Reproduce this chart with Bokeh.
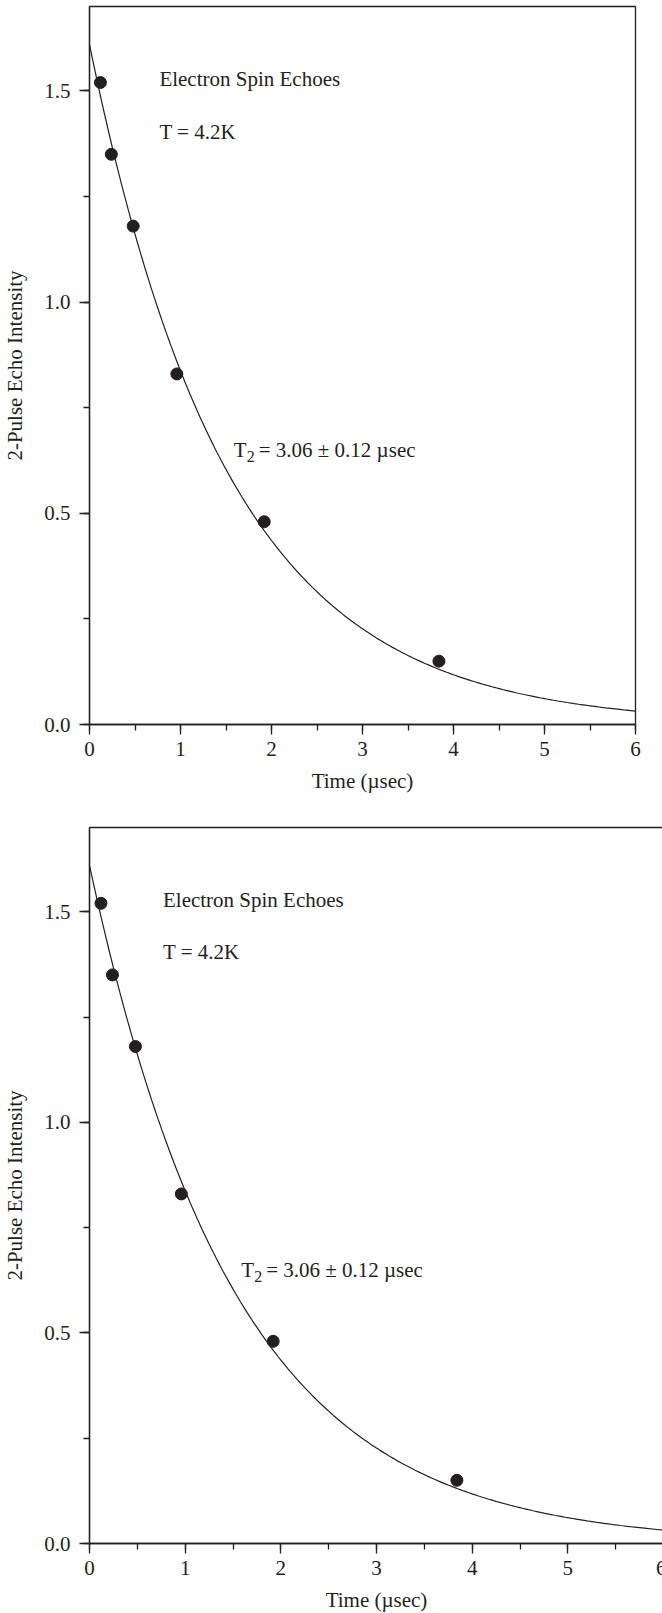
from bokeh.plotting import figure
from bokeh.layouts import column
from bokeh.models import Range1d, SingleIntervalTicker, CustomJSTickFormatter
from bokeh.core.properties import value
from bokeh.embed import file_html
from bokeh.resources import INLINE
import numpy as np

# ---- data ----
time_us = [0.12, 0.24, 0.48, 0.96, 1.92, 3.84]
echo_intensity = [1.52, 1.35, 1.18, 0.83, 0.48, 0.15]

# fitted decay I(t) = A * exp(-2 t / T2), T2 as annotated
fit_amplitude = 1.61
fit_T2 = 3.06

x_tick_values = [0, 1, 2, 3, 4, 5, 6]
y_tick_values = [0.0, 0.5, 1.0, 1.5]

title_lines = ["Electron Spin Echoes", "T = 4.2K"]
t2_main = "T"
t2_sub = "2"
t2_rest = "= 3.06 \u00b1 0.12 \u00b5sec"

FONT = "Liberation Serif"
INK = "#231f20"

fit_t = np.linspace(0.0, 6.0, 241)
fit_y = fit_amplitude * np.exp(-2.0 * fit_t / fit_T2)


def make_panel(left, frame_w, right, top, frame_h, bottom):
    p = figure(width=left + frame_w + right, height=top + frame_h + bottom,
               frame_width=frame_w, frame_height=frame_h,
               min_border_left=left, min_border_right=right,
               min_border_top=top, min_border_bottom=bottom,
               x_range=Range1d(0, 6), y_range=Range1d(0, 1.7),
               output_backend="svg", toolbar_location=None,
               background_fill_color="white", border_fill_color="white")
    p.grid.visible = False
    p.outline_line_color = INK
    p.outline_line_width = 1.3
    p.outline_line_alpha = 1.0

    p.xaxis.ticker = SingleIntervalTicker(interval=1, num_minor_ticks=2)
    p.yaxis.ticker = SingleIntervalTicker(interval=0.5, num_minor_ticks=2)
    p.yaxis.formatter = CustomJSTickFormatter(code="return tick.toFixed(1);")

    for ax in (p.xaxis[0], p.yaxis[0]):
        ax.axis_line_color = INK
        ax.axis_line_width = 1.3
        ax.major_tick_line_color = INK
        ax.minor_tick_line_color = INK
        ax.major_tick_line_width = 1.3
        ax.minor_tick_line_width = 1.3
        ax.major_tick_in = 0
        ax.major_tick_out = 10
        ax.minor_tick_in = 0
        ax.minor_tick_out = 6
        ax.major_label_text_font = FONT
        ax.major_label_text_font_size = "21px"
        ax.major_label_text_color = INK
        ax.axis_label_text_font = FONT
        ax.axis_label_text_font_size = "21px"
        ax.axis_label_text_font_style = "normal"
        ax.axis_label_text_color = INK

    p.xaxis.axis_label = "Time (\u00b5sec)"
    p.yaxis.axis_label = "2-Pulse Echo Intensity"
    p.xaxis.major_label_standoff = 7
    p.yaxis.major_label_standoff = 9
    p.xaxis.axis_label_standoff = 10
    p.yaxis.axis_label_standoff = 14

    p.line(fit_t, fit_y, line_color=INK, line_width=1.2)
    p.scatter(time_us, echo_intensity, size=12, marker="circle",
              fill_color=INK, line_color=INK)

    p.text(x=[0.768, 0.768], y=[1.528, 1.404], text=title_lines,
           text_font=value(FONT), text_font_size="21px", text_color=INK,
           text_align="left", text_baseline="alphabetic")
    p.text(x=[1.585], y=[0.649], text=[t2_main],
           text_font=value(FONT), text_font_size="21px", text_color=INK,
           text_align="left", text_baseline="alphabetic")
    p.text(x=[1.585], y=[0.649], text=[t2_sub], x_offset=13, y_offset=6,
           text_font=value(FONT), text_font_size="16px", text_color=INK,
           text_align="left", text_baseline="alphabetic")
    p.text(x=[1.585], y=[0.649], text=[t2_rest], x_offset=25,
           text_font=value(FONT), text_font_size="21px", text_color=INK,
           text_align="left", text_baseline="alphabetic")
    return p


top_panel = make_panel(87, 546, 29, 6, 718, 90)
bottom_panel = make_panel(85, 574, 3, 13, 716, 70)

layout = column(top_panel, bottom_panel, spacing=0)
open("out.html", "w").write(file_html(layout, INLINE))
